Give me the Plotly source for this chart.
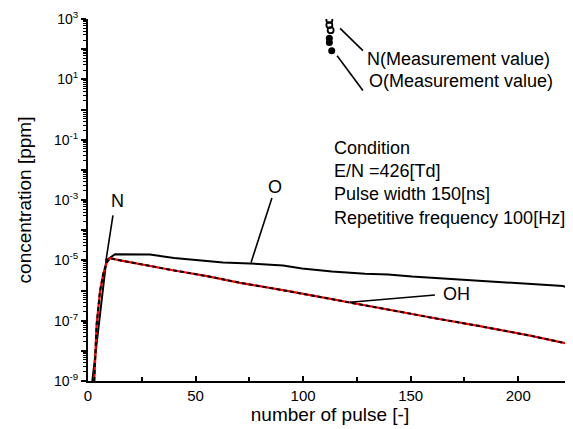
import plotly.graph_objects as go

# ---- data ----
o_pulse = [2, 8.5, 12.6, 28.8, 40, 52, 62.8, 75.3, 90.7, 99.5, 113.4, 128.8, 139.5, 150.6, 161.3, 180.8, 192.9, 208.7, 220.8, 224]
o_conc = [1e-9, 1.0e-5, 1.6e-5, 1.55e-5, 1.2e-5, 1.0e-5, 8.5e-6, 7.9e-6, 6.8e-6, 5.4e-6, 4.3e-6, 3.6e-6, 3.4e-6, 2.9e-6, 2.6e-6, 2.1e-6, 1.8e-6, 1.55e-6, 1.4e-6, 1.2e-6]

oh_pulse = [2.9, 4.0, 5.6, 7.1, 8.7, 10.2, 14.9, 24.2, 39.5, 55.3, 70.7, 93.9, 114.8, 138.1, 161.3, 182.2, 205.5, 224]
oh_conc = [1e-9, 7.2e-8, 9.5e-7, 3.6e-6, 8.5e-6, 1.17e-5, 1.0e-5, 7.4e-6, 4.7e-6, 3.0e-6, 1.8e-6, 9.3e-7, 4.9e-7, 2.35e-7, 1.2e-7, 6.6e-8, 3.2e-8, 1.66e-8]

n_pulse = [2.9, 4.0, 5.6, 7.1, 8.7, 10.2, 14.9, 24.2, 39.5, 55.3, 70.7, 93.9, 114.8, 138.1, 161.3, 182.2, 205.5, 224]
n_conc = [1e-9, 7.2e-8, 9.5e-7, 3.6e-6, 8.5e-6, 1.17e-5, 1.0e-5, 7.4e-6, 4.7e-6, 3.0e-6, 1.8e-6, 9.3e-7, 4.9e-7, 2.35e-7, 1.2e-7, 6.6e-8, 3.2e-8, 1.66e-8]

n_meas_pulse = [112.2, 112.2, 112.8]
n_meas_conc = [930, 630, 425]
o_meas_pulse = [112.2, 112.2, 113.3]
o_meas_conc = [229, 166, 89]

x_ticks = [0, 50, 100, 150, 200]
y_exps = [-9, -8, -7, -6, -5, -4, -3, -2, -1, 0, 1, 2, 3]

FONT = "Liberation Sans, Arial, sans-serif"

fig = go.Figure()
fig.add_trace(go.Scatter(x=o_pulse, y=o_conc, mode="lines",
                         line=dict(color="black", width=2), showlegend=False))
fig.add_trace(go.Scatter(x=oh_pulse, y=oh_conc, mode="lines",
                         line=dict(color="red", width=2.2), showlegend=False))
fig.add_trace(go.Scatter(x=n_pulse, y=n_conc, mode="lines",
                         line=dict(color="black", width=2, dash="4px,3px"), showlegend=False))
fig.add_trace(go.Scatter(x=n_meas_pulse, y=n_meas_conc, mode="markers",
                         marker=dict(symbol="circle-open", size=6, color="black",
                                     line=dict(width=1.8)), showlegend=False))
fig.add_trace(go.Scatter(x=o_meas_pulse, y=o_meas_conc, mode="markers",
                         marker=dict(symbol="circle", size=7, color="black"), showlegend=False))

# leader lines (data coordinates)
leaders = [
    ([11.6, 8.37], [10**-3.51, 10**-5.0]),
    ([85.5, 75.8], [10**-2.93, 10**-5.07]),
    ([161.3, 121.8], [10**-6.15, 10**-6.39]),
    ([117.2, 127.8], [10**2.69, 10**1.95]),
    ([115.8, 127.8], [10**1.78, 10**0.63]),
]
for lx, ly in leaders:
    fig.add_trace(go.Scatter(x=lx, y=ly, mode="lines",
                             line=dict(color="black", width=1.6), showlegend=False,
                             hoverinfo="skip"))

def label(text, x, ylog, anchor="center", size=18):
    fig.add_annotation(x=x, y=ylog, xref="x", yref="y", text=text, showarrow=False,
                       xanchor=anchor, yanchor="middle",
                       font=dict(family=FONT, size=size, color="black"))

label("N", 13.5, -3.03)
label("O", 86.9, -2.56)
label("OH", 164.3, -6.12, anchor="left")
label("N(Measurement value)", 128.8, 1.68, anchor="left")
label("O(Measurement value)", 129.8, 0.93, anchor="left")
label("Condition", 113.4, -1.27, anchor="left")
label("E/N =426[Td]", 113.4, -2.05, anchor="left")
label("Pulse width 150[ns]", 113.4, -2.80, anchor="left")
label("Repetitive frequency 100[Hz]", 113.4, -3.58, anchor="left")

y_tickvals = [10**e for e in y_exps]
y_ticktext = [("10<sup>%d</sup>" % e) if e % 2 != 0 else "" for e in y_exps]
y_minor = [m * 10**e for e in y_exps[:-1] for m in range(2, 10)]

# the page adds an 8px body margin, so the figure is shrunk by it
fig.update_layout(
    width=565, height=421,
    margin=dict(l=80, r=1, t=11, b=48),
    paper_bgcolor="white", plot_bgcolor="white",
    font=dict(family=FONT, size=14, color="black"),
    xaxis=dict(range=[0, 225], tickvals=x_ticks, ticks="inside", ticklen=5,
               tickwidth=1.5, tickcolor="black", showline=True, linecolor="black",
               linewidth=2, showgrid=False, zeroline=False, automargin=False,
               tickfont=dict(size=15),
               minor=dict(tickvals=[25, 75, 125, 175, 225], ticks="inside",
                          ticklen=4, tickwidth=1.5, tickcolor="black"),
               title=dict(text="number of pulse [-]", font=dict(size=19), standoff=4)),
    yaxis=dict(type="log", range=[-9, 3], tickvals=y_tickvals, ticktext=y_ticktext,
               ticks="outside", ticklen=5, tickwidth=1.5, tickcolor="black",
               showline=True, linecolor="black", linewidth=2, showgrid=False,
               zeroline=False, automargin=False, tickfont=dict(size=14),
               minor=dict(tickvals=y_minor, ticks="outside", ticklen=3,
                          tickwidth=1, tickcolor="black"),
               title=dict(text="concentration [ppm]", font=dict(size=19), standoff=17)),
)

fig.write_html("out.html")
